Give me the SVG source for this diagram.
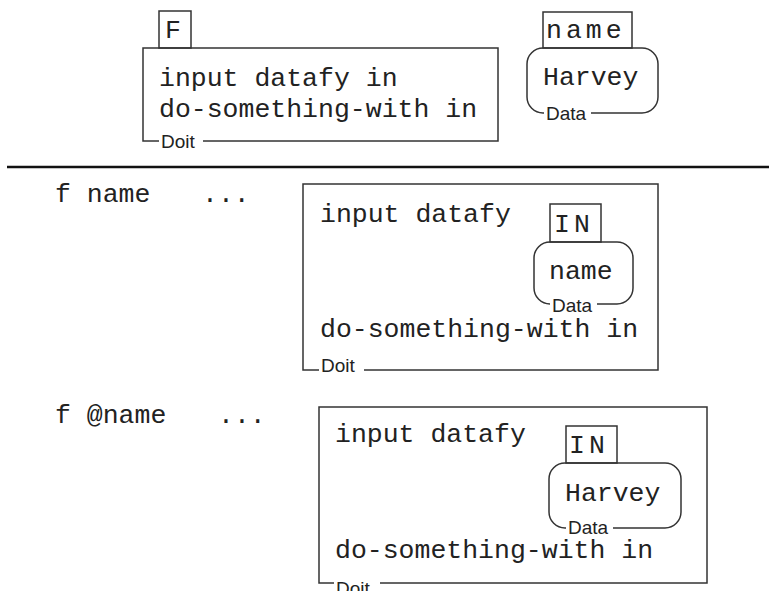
<svg xmlns="http://www.w3.org/2000/svg" width="769" height="591" viewBox="0 0 769 591">
<style>
.box{fill:none;stroke:#333;stroke-width:1.5}
.mono{font-family:"Liberation Mono","Courier New",monospace;font-size:26.5px;fill:#222}
.tag{letter-spacing:4px}
.lbl{font-family:"Liberation Sans",Arial,sans-serif;font-size:19px;fill:#222}
.gap{fill:#fff;stroke:none}
</style>
<rect width="769" height="591" fill="#fff"/>

<g id="top-doit">
<rect class="box" x="143" y="48" width="355" height="93"/>
<rect class="gap" x="159" y="134" width="44" height="16"/>
<text class="lbl" x="161" y="148">Doit</text>
<text class="mono" x="159" y="86">input datafy in</text>
<text class="mono" x="159" y="117">do-something-with in</text>
</g>
<g id="top-F">
<rect class="box" x="159" y="11" width="32" height="37"/>
<text class="mono" x="165" y="38" font-size="25">F</text>
</g>
<g id="top-name-tag">
<rect class="box" x="543" y="12" width="89" height="36"/>
<text class="mono tag" x="546" y="38">name</text>
</g>
<g id="top-data">
<rect class="box" x="527" y="48" width="131" height="65" rx="16"/>
<rect class="gap" x="544" y="106" width="47" height="16"/>
<text class="mono" x="543" y="85">Harvey</text>
<text class="lbl" x="546" y="120">Data</text>
</g>

<line x1="7" y1="167" x2="769" y2="167" stroke="#111" stroke-width="2.5"/>

<g id="call-1">
<text class="mono" x="55" y="202">f name</text>
<text class="mono" x="202" y="202">...</text>
</g>
<g id="mid-doit">
<rect class="box" x="303" y="184" width="355" height="186"/>
<rect class="gap" x="319" y="362" width="45" height="16"/>
<text class="lbl" x="321" y="372">Doit</text>
<text class="mono" x="320" y="222">input datafy</text>
<text class="mono" x="320" y="337">do-something-with in</text>
</g>
<g id="mid-IN">
<rect class="box" x="550" y="204" width="51" height="38"/>
<text class="mono tag" x="554" y="232">IN</text>
</g>
<g id="mid-data">
<rect class="box" x="534" y="242" width="99" height="62" rx="16"/>
<rect class="gap" x="550" y="297" width="47" height="16"/>
<text class="mono" x="549" y="279">name</text>
<text class="lbl" x="552" y="312">Data</text>
</g>

<g id="call-2">
<text class="mono" x="55" y="423">f @name</text>
<text class="mono" x="218" y="423">...</text>
</g>
<g id="bot-doit">
<rect class="box" x="319" y="407" width="388" height="176"/>
<rect class="gap" x="334" y="576" width="46" height="15"/>
<text class="lbl" x="336" y="595">Doit</text>
<text class="mono" x="335" y="442">input datafy</text>
<text class="mono" x="335" y="558">do-something-with in</text>
</g>
<g id="bot-IN">
<rect class="box" x="566" y="426" width="51" height="37"/>
<text class="mono tag" x="569" y="453">IN</text>
</g>
<g id="bot-data">
<rect class="box" x="549" y="463" width="132" height="65" rx="16"/>
<rect class="gap" x="566" y="520" width="47" height="16"/>
<text class="mono" x="565" y="501">Harvey</text>
<text class="lbl" x="568" y="534">Data</text>
</g>
</svg>
